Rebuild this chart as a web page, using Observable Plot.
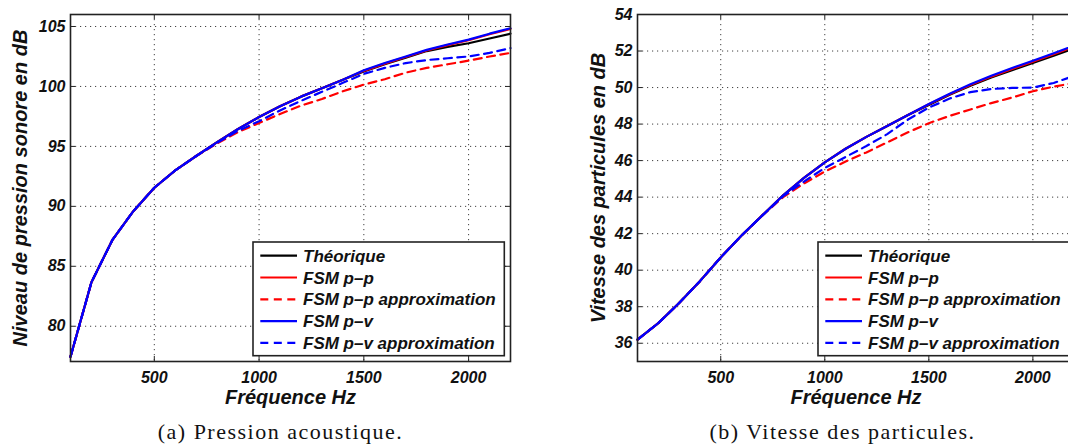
<!DOCTYPE html>
<html><head><meta charset="utf-8">
<script src="https://cdn.jsdelivr.net/npm/d3@7"></script>
<script src="https://cdn.jsdelivr.net/npm/@observablehq/plot@0.6"></script>
<style>
html,body{margin:0;padding:0;background:#fff;width:1068px;height:444px;overflow:hidden;}
#root{position:relative;width:1068px;height:444px;overflow:hidden;}
.panel{position:absolute;top:0;}
.panel svg{max-width:none !important;}
.caption{position:absolute;font-family:"Liberation Serif",serif;font-size:22px;line-height:22px;letter-spacing:1.5px;text-align:center;width:400px;white-space:nowrap;color:#111;}
</style></head><body><div id="root"></div>
<script>
// ---- data ----
const freq = [100,200,300,400,500,600,700,800,900,1000,1100,1200,1300,1400,1500,1600,1700,1800,1900,2000,2100,2200];
const xTickValues = [500,1000,1500,2000];
const yTicksA = [80,85,90,95,100,105];
const yTicksB = [36,38,40,42,44,46,48,50,52,54];
const seriesNames = ["Théorique","FSM p–p","FSM p–p approximation","FSM p–v","FSM p–v approximation"];
const seriesColors = ["#000000","#ff0000","#ff0000","#0000ff","#0000ff"];
const seriesDash = [null,null,"8,5.5",null,"8,5.5"];

// (a) Niveau de pression sonore (dB)
const theoA     = [77.45,83.67,87.2,89.6,91.55,93.0,94.2,95.35,96.45,97.45,98.35,99.15,99.85,100.55,101.25,101.85,102.4,102.95,103.3,103.6,104.0,104.4];
const ppA       = [77.45,83.67,87.2,89.6,91.55,93.0,94.2,95.35,96.45,97.45,98.35,99.15,99.85,100.55,101.3,101.9,102.45,103.0,103.45,103.85,104.35,104.8];
const ppApproxA = [77.45,83.67,87.2,89.6,91.55,93.0,94.2,95.25,96.2,96.95,97.7,98.4,98.95,99.6,100.15,100.6,101.15,101.55,101.85,102.15,102.5,102.8];
const pvA       = [77.45,83.67,87.2,89.6,91.55,93.0,94.2,95.35,96.45,97.45,98.35,99.15,99.85,100.55,101.35,101.95,102.5,103.05,103.5,103.9,104.4,104.85];
const pvApproxA = [77.45,83.67,87.2,89.6,91.55,93.0,94.2,95.3,96.3,97.1,98.0,98.8,99.55,100.3,101.05,101.55,101.95,102.2,102.35,102.5,102.8,103.2];

// (b) Vitesse des particules (dB)
const theoB     = [36.2,37.1,38.2,39.4,40.7,41.9,43.0,44.1,45.05,45.9,46.65,47.3,47.9,48.5,49.05,49.6,50.1,50.55,50.95,51.35,51.75,52.15];
const ppB       = [36.2,37.1,38.2,39.4,40.7,41.9,43.0,44.1,45.05,45.9,46.65,47.3,47.9,48.5,49.08,49.63,50.14,50.6,51.02,51.42,51.82,52.25];
const ppApproxB = [36.2,37.1,38.2,39.4,40.7,41.9,43.0,44.0,44.75,45.4,45.95,46.45,47.0,47.55,48.05,48.45,48.8,49.15,49.45,49.8,50.05,50.25];
const pvB       = [36.2,37.1,38.2,39.4,40.7,41.9,43.0,44.1,45.05,45.9,46.65,47.3,47.9,48.5,49.1,49.66,50.18,50.65,51.07,51.47,51.88,52.3];
const pvApproxB = [36.2,37.1,38.2,39.4,40.7,41.9,43.0,44.05,44.85,45.6,46.2,46.8,47.45,48.25,48.9,49.4,49.75,49.92,49.98,50.0,50.25,50.65];

const root = document.getElementById("root");
const FONT = '"Liberation Sans", Arial, Helvetica, sans-serif';

function makePanel(cfg) {
  const H = 410, mt = 14, mb = 49;
  const ph = H - mt - mb, pw = cfg.width - cfg.ml - cfg.mr;
  const marks = [
    Plot.ruleX(xTickValues, {x: d => d, stroke: "#000", strokeOpacity: 0.75, strokeDasharray: "1.2,3.8", strokeWidth: 1}),
    Plot.ruleY(cfg.yTicks, {y: d => d, stroke: "#000", strokeOpacity: 0.75, strokeDasharray: "1.2,3.8", strokeWidth: 1})
  ];
  cfg.series.forEach((vals, si) => {
    const rows = vals.map((v, i) => ({f: freq[i], v}));
    const opts = {x: "f", y: "v", stroke: seriesColors[si], strokeWidth: 2.2};
    if (seriesDash[si]) opts.strokeDasharray = seriesDash[si];
    marks.push(Plot.line(rows, opts));
  });
  marks.push(
    Plot.tickX(xTickValues, {x: d => d, insetTop: ph - 5, stroke: "#222"}),
    Plot.tickX(xTickValues, {x: d => d, insetBottom: ph - 5, stroke: "#222"}),
    Plot.tickY(cfg.yTicks, {y: d => d, insetRight: pw - 5, stroke: "#222"}),
    Plot.tickY(cfg.yTicks, {y: d => d, insetLeft: pw - 5, stroke: "#222"}),
    Plot.frame({stroke: "#222", strokeWidth: 1.6}),
    Plot.axisX(xTickValues, {tickSize: 0, tickPadding: 10, tickFormat: d => String(d), label: null,
      fontSize: 16, fontWeight: "bold", fontStyle: "italic", fill: "#111"}),
    Plot.axisY(cfg.yTicks, {tickSize: 0, tickPadding: 5, tickFormat: d => String(d), label: null,
      fontSize: 16, fontWeight: "bold", fontStyle: "italic", fill: "#111"}),
    Plot.text([cfg.xLabel], {text: d => d, frameAnchor: "bottom", dy: 42, lineAnchor: "bottom", textAnchor: "middle",
      fontSize: 20, fontWeight: "bold", fontStyle: "italic", fill: "#111"}),
    Plot.text([cfg.yLabel], {text: d => d, frameAnchor: "left", dx: -cfg.yLabelOffset, rotate: -90, lineAnchor: "top", textAnchor: "middle",
      fontSize: 20, fontWeight: "bold", fontStyle: "italic", fill: "#111"})
  );
  const chart = Plot.plot({
    width: cfg.width, height: H,
    marginTop: mt, marginBottom: mb, marginLeft: cfg.ml, marginRight: cfg.mr,
    style: {fontFamily: FONT, fontSize: "16px", fontWeight: "bold", fontStyle: "italic", color: "#111", background: "transparent", overflow: "visible", maxWidth: "none"},
    x: {domain: [100, 2200]},
    y: {domain: cfg.yDomain},
    marks
  });
  const div = document.createElement("div");
  div.className = "panel";
  div.style.left = cfg.left + "px";
  div.style.width = cfg.width + "px";
  div.appendChild(chart);
  root.appendChild(div);
}

function makeLegend(left, top) {
  const w = 251.3, h = 113.7;
  const svg = d3.create("svg").attr("width", w + 4).attr("height", h + 4)
    .style("position", "absolute").style("left", (left - 2) + "px").style("top", (top - 2) + "px")
    .style("font-family", FONT).style("font-weight", "bold").style("font-style", "italic").style("font-size", "17px");
  svg.append("rect").attr("x", 2).attr("y", 2).attr("width", w).attr("height", h)
    .attr("fill", "#fff").attr("stroke", "#222").attr("stroke-width", 1.6);
  seriesNames.forEach((name, i) => {
    const cy = 2 + 13.7 + i * 21.8;
    const ln = svg.append("line").attr("x1", 2 + 7.3).attr("x2", 2 + 44).attr("y1", cy).attr("y2", cy)
      .attr("stroke", seriesColors[i]).attr("stroke-width", 2.2);
    if (seriesDash[i]) ln.attr("stroke-dasharray", seriesDash[i]);
    svg.append("text").attr("x", 2 + 50).attr("y", cy).attr("dy", "0.36em").attr("fill", "#111").text(name);
  });
  root.appendChild(svg.node());
}

function makeCaption(text, cx) {
  const d = document.createElement("div");
  d.className = "caption";
  d.style.left = (cx - 200) + "px";
  d.style.top = "421px";
  d.textContent = text;
  root.appendChild(d);
}

makePanel({left: 0, width: 530, ml: 70, mr: 20, yDomain: [77.06, 106], yTicks: yTicksA,
  series: [theoA, ppA, ppApproxA, pvA, pvApproxA],
  xLabel: "Fréquence Hz", yLabel: "Niveau de pression sonore en dB", yLabelOffset: 58});
makePanel({left: 540, width: 554, ml: 97, mr: 20, yDomain: [35, 54], yTicks: yTicksB,
  series: [theoB, ppB, ppApproxB, pvB, pvApproxB],
  xLabel: "Fréquence Hz", yLabel: "Vitesse des particules en dB", yLabelOffset: 47});
makeLegend(252.7, 242.3);
makeLegend(818.3, 242.3);
makeCaption("(a) Pression acoustique.", 280.5);
makeCaption("(b) Vitesse des particules.", 842.5);
</script></body></html>
